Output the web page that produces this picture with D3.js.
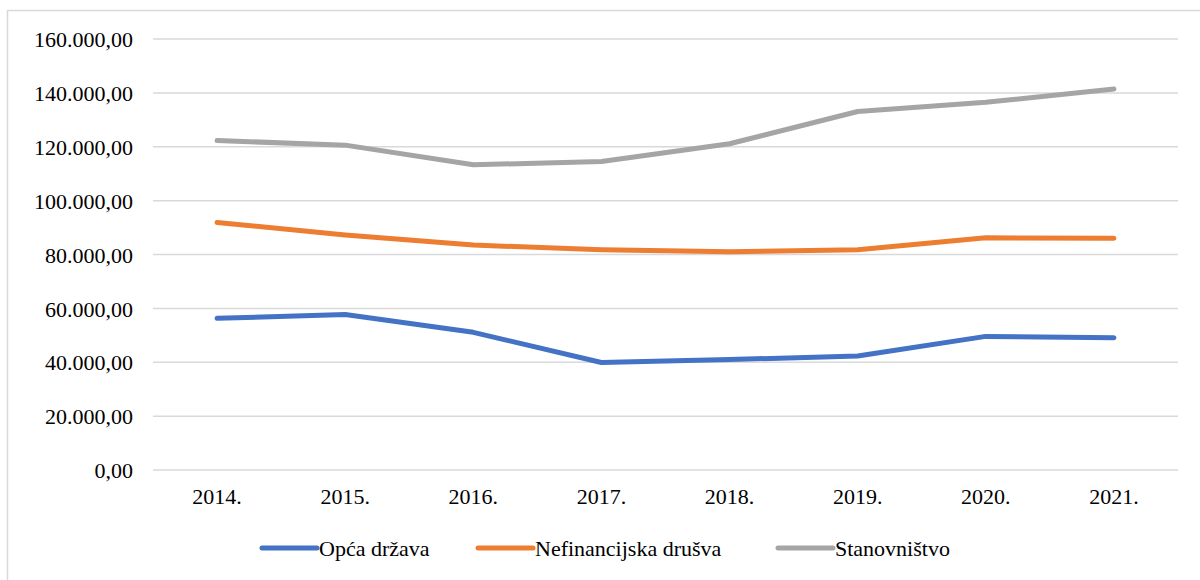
<!DOCTYPE html>
<html>
<head>
<meta charset="utf-8">
<script src="https://cdn.jsdelivr.net/npm/d3@7"></script>
<style>
  body { margin: 0; background: #fff; }
  text { font-family: "Liberation Serif", "Times New Roman", Times, "DejaVu Serif", serif; fill: #000; }
</style>
</head>
<body>
<svg id="chart"></svg>
<script>
const years = ["2014.", "2015.", "2016.", "2017.", "2018.", "2019.", "2020.", "2021."];
const opcaDrzava = [56300, 57700, 51100, 39900, 41000, 42300, 49600, 49100];
const nefinancijska = [91900, 87200, 83500, 81800, 81000, 81800, 86200, 86000];
const stanovnistvo = [122300, 120600, 113300, 114500, 121100, 133100, 136500, 141400];
const seriesNames = ["Opća država", "Nefinancijska drušva", "Stanovništvo"];
const seriesColors = ["#4472C4", "#ED7D31", "#A5A5A5"];
const yTicks = [0, 20000, 40000, 60000, 80000, 100000, 120000, 140000, 160000];

const width = 1200;
const height = 580;
const margin = { left: 153, right: 22, top: 39, bottom: 110 };
const serif = '"Liberation Serif", "Times New Roman", Times, "DejaVu Serif", serif';

const svg = d3.select("#chart")
    .attr("width", width)
    .attr("height", height);

// chart frame (only the top and left edges are inside the picture)
svg.append("rect")
    .attr("x", 7.5).attr("y", 10.5)
    .attr("width", width + 20).attr("height", height + 20)
    .attr("fill", "none")
    .attr("stroke", "#d9d9d9")
    .attr("stroke-width", 1.5);

const x = d3.scaleBand()
    .domain(years)
    .range([margin.left, width - margin.right]);

const y = d3.scaleLinear()
    .domain([0, 160000])
    .range([height - margin.bottom, margin.top]);

const fmt = v => d3.format(",.2f")(v).replace(/,/g, "#").replace(/\./g, ",").replace(/#/g, ".");

// gridlines
svg.append("g")
    .selectAll("line")
    .data(yTicks)
    .enter()
    .append("line")
    .attr("x1", margin.left)
    .attr("x2", width - margin.right)
    .attr("y1", d => y(d))
    .attr("y2", d => y(d))
    .attr("stroke", "#d9d9d9")
    .attr("stroke-width", 1.5);

// y axis labels
const yAxis = svg.append("g")
    .attr("transform", `translate(${margin.left - 20}, 0)`)
    .call(d3.axisLeft(y).tickValues(yTicks).tickFormat(fmt).tickSize(0).tickPadding(0))
    .attr("font-family", serif)
    .attr("font-size", 22);
yAxis.select(".domain").remove();
yAxis.selectAll("text")
    .attr("fill", "#000")
    .attr("dy", "0.35em");

// x axis labels
const xAxis = svg.append("g")
    .attr("transform", `translate(0, ${y(0)})`)
    .call(d3.axisBottom(x).tickSize(0).tickPadding(18))
    .attr("font-family", serif)
    .attr("font-size", 22);
xAxis.select(".domain").remove();
xAxis.selectAll("text")
    .attr("fill", "#000");

// lines
const allSeries = [opcaDrzava, nefinancijska, stanovnistvo];
const line = d3.line()
    .x((d, i) => x(years[i]) + x.bandwidth() / 2)
    .y(d => y(d));

svg.append("g")
    .selectAll("path")
    .data(allSeries)
    .enter()
    .append("path")
    .attr("d", line)
    .attr("fill", "none")
    .attr("stroke", (d, i) => seriesColors[i])
    .attr("stroke-width", 5)
    .attr("stroke-linecap", "round")
    .attr("stroke-linejoin", "round");

// legend
const legendX = [262, 478, 778];
const legend = svg.append("g")
    .attr("transform", "translate(0, 548)")
    .attr("font-family", serif)
    .attr("font-size", 22);
const items = legend.selectAll("g")
    .data(seriesNames)
    .enter()
    .append("g")
    .attr("transform", (d, i) => `translate(${legendX[i]}, 0)`);

items.append("line")
    .attr("x1", 0).attr("x2", 55)
    .attr("y1", 0).attr("y2", 0)
    .attr("stroke", (d, i) => seriesColors[i])
    .attr("stroke-width", 5)
    .attr("stroke-linecap", "round");

items.append("text")
    .attr("x", 57)
    .attr("dy", "0.35em")
    .text(d => d);
</script>
</body>
</html>
